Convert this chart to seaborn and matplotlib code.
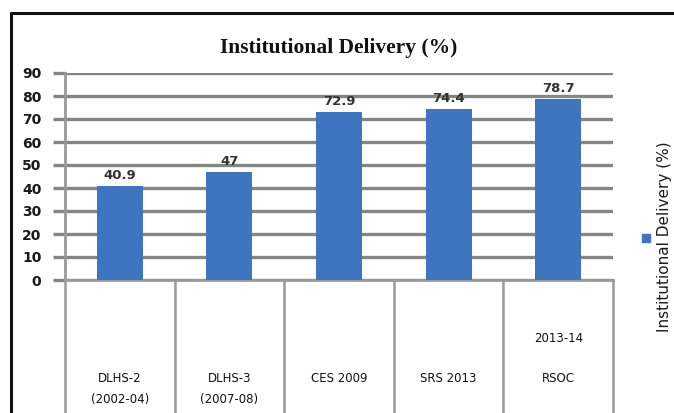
import matplotlib
matplotlib.use('Agg')
import matplotlib.pyplot as plt
import matplotlib.transforms as mtransforms
from matplotlib.lines import Line2D
from matplotlib.patches import Rectangle
import seaborn as sns

# chart data
sources = ['DLHS-2', 'DLHS-3', 'CES 2009', 'SRS 2013', 'RSOC']
periods_below = ['(2002-04)', '(2007-08)', '', '', '']
periods_above = ['', '', '', '', '2013-14']
delivery = [40.9, 47, 72.9, 74.4, 78.7]
value_labels = ['40.9', '47', '72.9', '74.4', '78.7']
y_ticks = [0, 10, 20, 30, 40, 50, 60, 70, 80, 90]

title = 'Institutional Delivery (%)'
legend_label = 'Institutional Delivery (%)'

bar_color = '#3d75c0'
grid_color = '#858585'

sns.set_style('white')
plt.rcParams['font.family'] = ['DejaVu Sans']

W, H = 674, 413
fig = plt.figure(figsize=(W / 100, H / 100), dpi=100)
fig.patch.set_facecolor('white')

# plot area in pixels: x 65..613, y 73..280
ax = fig.add_axes([65 / W, 1 - 280 / H, (613 - 65) / W, (280 - 73) / H])

sns.barplot(x=sources, y=delivery, color=bar_color, saturation=1,
            width=0.42, ax=ax, zorder=3, linewidth=0, edgecolor=bar_color)

ax.set_ylim(0, 90)
ax.set_xlim(-0.5, len(sources) - 0.5)
ax.set_yticks(y_ticks)
ax.set_yticklabels([str(t) for t in y_ticks], fontsize=10, fontweight='bold',
                   color='#1a1a1a')
ax.tick_params(axis='y', left=True, length=9, width=2.4, color=grid_color, pad=8)
ax.set_xticks([])
ax.set_xlabel('')
ax.set_ylabel('')
ax.yaxis.grid(True, color=grid_color, linewidth=2.4, zorder=0)
ax.set_axisbelow(True)
for side in ['top', 'right']:
    ax.spines[side].set_visible(False)
for side in ['left', 'bottom']:
    ax.spines[side].set_color('#999999')
    ax.spines[side].set_linewidth(2)

# value labels above bars
for i, (v, lab) in enumerate(zip(delivery, value_labels)):
    ax.annotate(lab, (i, v), xytext=(0, 3), textcoords='offset points',
                ha='center', va='bottom', fontsize=9.5, fontweight='bold',
                color='#333333', zorder=4)

# category table below the axis
trans = mtransforms.blended_transform_factory(ax.transData, ax.transAxes)
ax_h = 280 - 73
bottom = -(H - 280) / ax_h
for b in range(len(sources) + 1):
    ax.plot([b - 0.5, b - 0.5], [0, bottom], transform=trans, color='#999999',
            linewidth=1.8, clip_on=False)

def px_to_axes(y_px):
    return (280 - y_px) / ax_h

for i, name in enumerate(sources):
    ax.text(i, px_to_axes(378), name, transform=trans, ha='center', va='center',
            fontsize=8.5, color='#111111')
    if periods_below[i]:
        ax.text(i, px_to_axes(400), periods_below[i], transform=trans,
                ha='center', va='center', fontsize=8.5, color='#111111')
    if periods_above[i]:
        ax.text(i, px_to_axes(338), periods_above[i], transform=trans,
                ha='center', va='center', fontsize=8.5, color='#111111')

# title
fig.text(339 / W, 1 - 48 / H, title, ha='center', va='center', fontsize=15.5,
         fontweight='bold', family='Liberation Serif', color='#111111')

# legend on the right
fig.add_artist(Rectangle((642 / W, 1 - 242 / H), 8 / W, 8 / H,
                         transform=fig.transFigure, color=bar_color))
fig.text(665 / W, 1 - 237 / H, legend_label, rotation=90, ha='center',
         va='center', fontsize=11, color='#1a1a1a')

# outer frame (top and left edges)
fig.add_artist(Line2D([11 / W, 1], [1 - 13 / H, 1 - 13 / H],
                      transform=fig.transFigure, color='#111111', linewidth=2.2))
fig.add_artist(Line2D([11 / W, 11 / W], [0, 1 - 13 / H],
                      transform=fig.transFigure, color='#111111', linewidth=2.2))

fig.savefig('out.png', dpi=100)
